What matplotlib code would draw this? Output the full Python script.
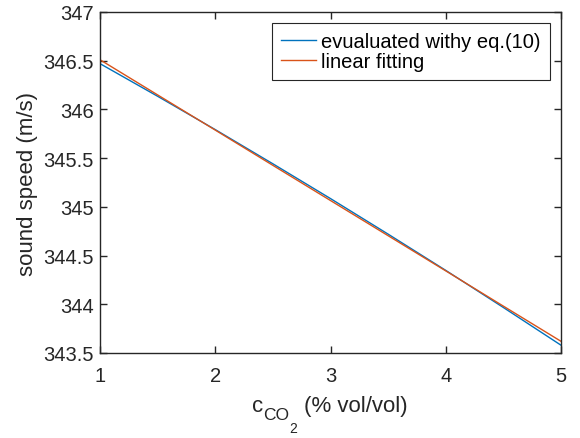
import matplotlib
matplotlib.use("Agg")
import matplotlib.pyplot as plt

x_vals = [1.0, 1.5, 2.0, 2.5, 3.0, 3.5, 4.0, 4.5, 5.0]
evaluated = [346.47, 346.135, 345.793, 345.442, 345.085, 344.72, 344.348, 343.967, 343.58]
fit_line = [346.51, 346.149, 345.788, 345.426, 345.065, 344.704, 344.343, 343.981, 343.62]
labels = ["evualuated withy eq.(10)", "linear fitting"]
xticks = [1, 2, 3, 4, 5]
yticks = [343.5, 344, 344.5, 345, 345.5, 346, 346.5, 347]

plt.rcParams['font.family'] = ['Liberation Sans', 'DejaVu Sans']
W, H = 580, 439
fig = plt.figure(figsize=(W/100, H/100), dpi=100)
ax = fig.add_axes([100/W, 1-354/H, 461/W, 341/H])
ax.plot(x_vals, evaluated, color='#0072BD', lw=1.0, label=labels[0])
ax.plot(x_vals, fit_line, color='#D95319', lw=1.0, label=labels[1])
ax.set_xlim(1, 5)
ax.set_ylim(343.5, 347)
ax.set_xticks(xticks)
ax.set_xticklabels([str(t) for t in xticks])
ax.set_yticks(yticks)
ax.set_yticklabels([f"{t:g}" for t in yticks])
c = '#262626'
for s in ax.spines.values():
    s.set_color(c)
    s.set_linewidth(1.0)
ax.tick_params(direction='in', top=True, right=True, length=5, width=1.0,
               colors=c, labelsize=14.5)
ax.tick_params(axis='x', pad=9.5)
ax.tick_params(axis='y', pad=4.5)
for lab in ax.get_xticklabels() + ax.get_yticklabels():
    lab.set_color(c)

ax.set_ylabel("sound speed (m/s)", fontsize=16, color=c)
ax.yaxis.set_label_coords((38-100)/461, 0.5)

# x label built from pieces (MATLAB-style nested subscript)
fig.text(252/W, 1-412/H, "c", fontsize=16, color=c, ha='left', va='baseline')
fig.text(263/W, 1-420/H, "CO", fontsize=12.5, color=c, ha='left', va='baseline')
fig.text(289/W, 1-433/H, "2", fontsize=10, color=c, ha='left', va='baseline')
fig.text(304/W, 1-412/H, "(% vol/vol)", fontsize=16, color=c, ha='left', va='baseline')

leg = ax.legend(loc='upper right', fontsize=14.5, frameon=True, fancybox=False,
                edgecolor=c, framealpha=1, borderpad=0.45, handlelength=1.75,
                handletextpad=0.25, labelspacing=0.05, borderaxespad=0.55)
leg.get_frame().set_linewidth(0.8)
fig.savefig("out.png", dpi=100)
